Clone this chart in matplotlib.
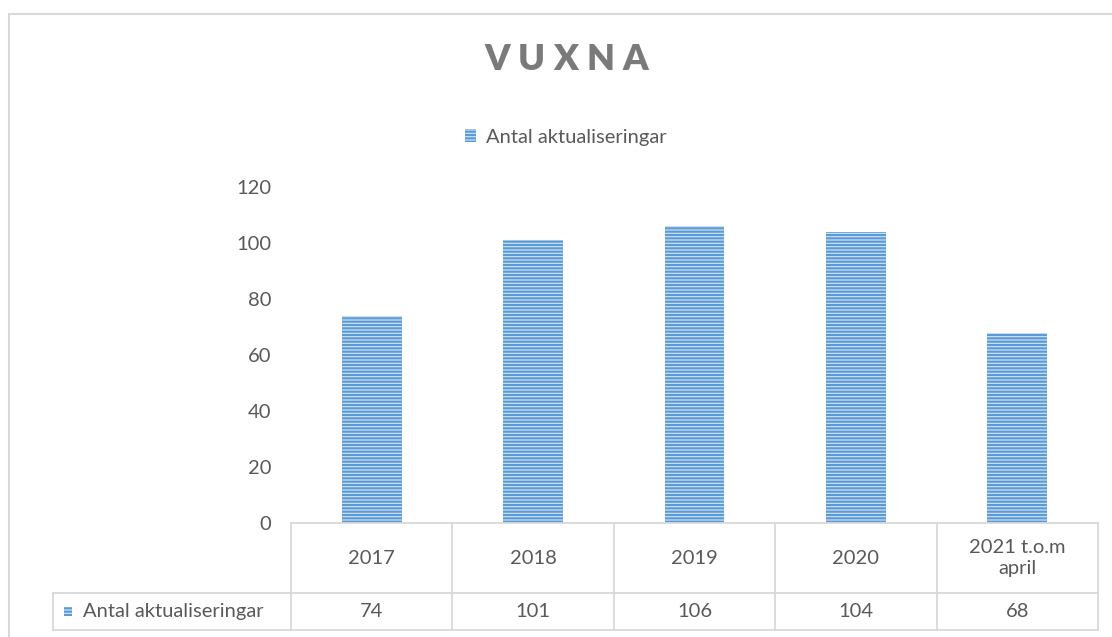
import matplotlib
matplotlib.use('Agg')
import matplotlib.pyplot as plt
from matplotlib.patches import Rectangle
import numpy as np

plt.rcParams['font.family'] = ['Lato', 'DejaVu Sans']
plt.rcParams['hatch.linewidth'] = 1.6

# data
categories = ['2017', '2018', '2019', '2020', '2021 t.o.m\napril']
values = [74, 101, 106, 104, 68]
series_name = 'Antal aktualiseringar'
title = 'VUXNA'
yticks = [0, 20, 40, 60, 80, 100, 120]

txt = '#595959'
grid = '#d9d9d9'
face = '#d6e6f5'
blue = '#5b9bd5'

W, H = 1112, 637
fig = plt.figure(figsize=(W / 100, H / 100), dpi=100)

# chart frame
fig.patches.append(Rectangle((9 / W, -0.1), 1.2, 1 - 14 / H + 0.1, transform=fig.transFigure,
                             fill=False, edgecolor=grid, linewidth=1.5))

ax = fig.add_axes([291 / W, (H - 523) / H, 807 / W, 336 / H])
x = np.arange(len(categories))
bars = ax.bar(x, values, width=0.37, facecolor=face, hatch='-----', edgecolor=blue,
              linewidth=0, label=series_name)

ax.set_xlim(-0.5, len(categories) - 0.5)
ax.set_ylim(0, 120)
ax.set_yticks(yticks)
ax.set_xticks([])
ax.tick_params(axis='y', length=0, pad=14, labelsize=14.5, labelcolor=txt)
for s in ax.spines.values():
    s.set_visible(False)

# data table under the axis
tr = ax.get_xaxis_transform()
n = len(categories)
r1, r2 = -70 / 336, -107 / 336
xl = -0.5 - 238 / 161.4
kw = dict(color=grid, lw=1.3, transform=tr, clip_on=False)
ax.plot([-0.5, n - 0.5], [0, 0], **kw)
ax.plot([xl, n - 0.5], [r1, r1], **kw)
ax.plot([xl, n - 0.5], [r2, r2], **kw)
ax.plot([xl, xl], [r1, r2], **kw)
for i in range(n + 1):
    ax.plot([i - 0.5, i - 0.5], [0, r2], **kw)
for i in range(n):
    ax.text(x[i], r1 / 2, categories[i], ha='center', va='center', fontsize=14.5,
            color=txt, transform=tr, linespacing=1.3)
    ax.text(x[i], (r1 + r2) / 2, str(values[i]), ha='center', va='center', fontsize=14.5,
            color=txt, transform=tr)
ax.add_patch(Rectangle((-0.5 - 227 / 161.4, (r1 + r2) / 2 - 0.014), 8 / 161.4, 0.028,
                       transform=tr, clip_on=False, facecolor=face, hatch='-----',
                       edgecolor=blue, linewidth=0))
ax.text(-0.5 - 208 / 161.4, (r1 + r2) / 2, series_name, ha='left', va='center',
        fontsize=14.5, color=txt, transform=tr)

# legend
fig.legend(handles=[bars], loc='center', bbox_to_anchor=(566 / W, 1 - 137 / H),
           frameon=False, fontsize=14.5, labelcolor=txt, handlelength=0.55,
           handleheight=0.6, handletextpad=0.5)

# spaced title
cx = 566
for j, ch in enumerate(title):
    fig.text((cx + (j - 2) * 34.5) / W, 1 - 60 / H, ch, ha='center', va='center',
             fontsize=26, fontweight='heavy', color='#7a7a7a')

fig.savefig('out.png', dpi=100)
